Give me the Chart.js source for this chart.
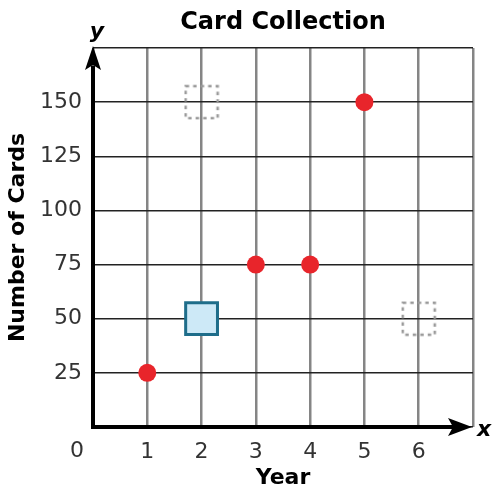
<!DOCTYPE html>
<html>
<head>
<meta charset="utf-8">
<script src="https://cdn.jsdelivr.net/npm/chart.js@4/dist/chart.umd.min.js"></script>
<style>
  html, body { margin: 0; padding: 0; background: #fff; }
  canvas { display: block; }
</style>
</head>
<body>
<canvas id="chartCartas" width="494" height="491"></canvas>
<script>
// datos del grafico
var titulo = 'Card Collection'
var xTickLabels = ['1', '2', '3', '4', '5', '6']
var yTickLabels = ['25', '50', '75', '100', '125', '150']
var puntosAnios = [1, 3, 4, 5]
var puntosCartas = [25, 75, 75, 150]
var cuadroAnios = [2]
var cuadroCartas = [50]
var huecoAnios = [2, 6]
var huecoCartas = [150, 50]

var fuente = 'DejaVu Sans'

function pares(xs, ys) {
    return xs.map(function (x, i) { return { x: x, y: ys[i] } })
}

// cuadro punteado usado como pointStyle
var hueco = document.createElement('canvas')
hueco.width = 36
hueco.height = 36
var hctx = hueco.getContext('2d')
hctx.strokeStyle = '#9a9a9a'
hctx.lineWidth = 2.5
hctx.setLineDash([3.5, 4])
hctx.strokeRect(2, 2, 32, 32)

var ejes = {
    id: 'ejes',
    afterDraw: function (chart) {
        let ctx = chart.ctx
        let a = chart.chartArea
        let sx = chart.scales.x
        ctx.save()
        ctx.strokeStyle = '#000'
        ctx.fillStyle = '#000'
        ctx.lineWidth = 4
        ctx.beginPath()
        ctx.moveTo(a.left, a.bottom)
        ctx.lineTo(a.left, a.top + 18)
        ctx.moveTo(a.left - 2, a.bottom)
        ctx.lineTo(a.right - 20, a.bottom)
        ctx.stroke()
        // flecha y
        ctx.beginPath()
        ctx.moveTo(a.left, a.top - 2)
        ctx.lineTo(a.left - 8, a.top + 22)
        ctx.lineTo(a.left, a.top + 17)
        ctx.lineTo(a.left + 8, a.top + 22)
        ctx.closePath()
        ctx.fill()
        // flecha x
        ctx.beginPath()
        ctx.moveTo(a.right - 1, a.bottom)
        ctx.lineTo(a.right - 25, a.bottom - 9)
        ctx.lineTo(a.right - 20, a.bottom)
        ctx.lineTo(a.right - 25, a.bottom + 9)
        ctx.closePath()
        ctx.fill()
        // titulo centrado sobre el area
        ctx.textAlign = 'center'
        ctx.textBaseline = 'middle'
        ctx.font = 'bold 24px "' + fuente + '"'
        ctx.fillText(titulo, (a.left + a.right) / 2, 23)
        // letras de los ejes
        ctx.font = 'italic bold 22px "' + fuente + '"'
        ctx.fillText('y', a.left + 4, 32)
        ctx.fillText('x', a.right + 11, a.bottom + 3)
        // cero del origen
        ctx.font = '22px "' + fuente + '"'
        ctx.fillStyle = '#333'
        ctx.fillText('0', sx.getPixelForValue(0) - 16, a.bottom + 24)
        ctx.restore()
    }
}

var ctx = document.getElementById('chartCartas')
var chartCartas = new Chart(ctx, {
    type: 'scatter',
    data: {
        datasets: [{
            label: 'Puntos',
            data: pares(puntosAnios, puntosCartas),
            backgroundColor: '#e8252b',
            borderColor: '#e8252b',
            pointRadius: 9,
            pointHoverRadius: 9,
            borderWidth: 0
        }, {
            label: 'Cuadro',
            data: pares(cuadroAnios, cuadroCartas),
            pointStyle: 'rect',
            backgroundColor: '#cde9f7',
            borderColor: '#1e6d8a',
            borderWidth: 3,
            pointRadius: 22.5,
            pointHoverRadius: 22.5
        }, {
            label: 'Hueco',
            data: pares(huecoAnios, huecoCartas),
            pointStyle: hueco,
            pointRadius: 18
        }]
    },
    plugins: [ejes],
    options: {
        responsive: false,
        animation: false,
        devicePixelRatio: 1,
        layout: {
            autoPadding: false,
            padding: { left: 0, right: 21, top: 48, bottom: 0 }
        },
        plugins: {
            legend: { display: false },
            tooltip: { enabled: false },
            title: { display: false }
        },
        scales: {
            x: {
                type: 'linear',
                min: 0,
                max: 7,
                afterFit: function (scale) {
                    scale.height = 64
                    scale.paddingLeft = 0
                    scale.paddingRight = 0
                },
                border: { display: false },
                grid: { color: '#858585', lineWidth: 2.5, drawTicks: false },
                ticks: {
                    stepSize: 1,
                    padding: 12,
                    color: '#333',
                    font: { family: fuente, size: 22 },
                    callback: function (val) { return xTickLabels[val - 1] || '' }
                },
                title: {
                    display: true,
                    text: 'Year',
                    color: '#000',
                    font: { family: fuente, size: 22, weight: 'bold' },
                    padding: { top: 0, bottom: 0 }
                }
            },
            y: {
                min: 0,
                max: 175,
                afterFit: function (scale) {
                    scale.width = 93
                    scale.paddingTop = 0
                    scale.paddingBottom = 0
                },
                border: { display: false },
                grid: { color: '#222', lineWidth: 1.5, drawTicks: false },
                ticks: {
                    stepSize: 25,
                    padding: 11,
                    color: '#333',
                    font: { family: fuente, size: 22 },
                    callback: function (val) { return yTickLabels[val / 25 - 1] || '' }
                },
                title: {
                    display: true,
                    text: 'Number of Cards',
                    color: '#000',
                    font: { family: fuente, size: 22, weight: 'bold' },
                    padding: { top: 5, bottom: 0 }
                }
            }
        }
    }
})
</script>
</body>
</html>
